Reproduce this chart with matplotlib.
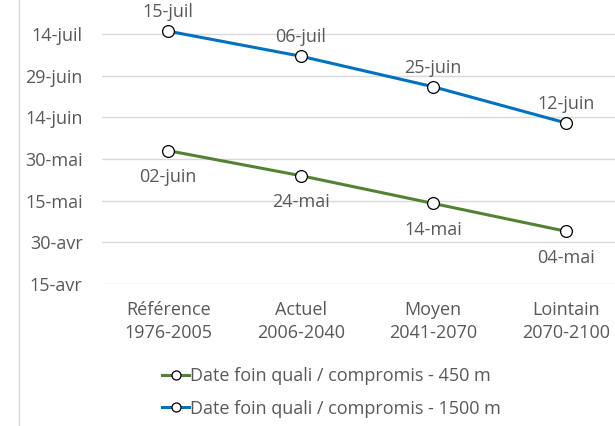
import matplotlib
matplotlib.use("Agg")
import matplotlib.pyplot as plt
from matplotlib.lines import Line2D
import numpy as np
import pandas as pd

periods = ["Référence\n1976-2005", "Actuel\n2006-2040", "Moyen\n2041-2070", "Lointain\n2070-2100"]
dates_450 = ["2001-06-02", "2001-05-24", "2001-05-14", "2001-05-04"]
labels_450 = ["02-juin", "24-mai", "14-mai", "04-mai"]
dates_1500 = ["2001-07-15", "2001-07-06", "2001-06-25", "2001-06-12"]
labels_1500 = ["15-juil", "06-juil", "25-juin", "12-juin"]
tick_dates = ["2001-04-15", "2001-04-30", "2001-05-15", "2001-05-30",
              "2001-06-14", "2001-06-29", "2001-07-14"]
tick_labels = ["15-avr", "30-avr", "15-mai", "30-mai", "14-juin", "29-juin", "14-juil"]
names = ["Date foin quali / compromis - 450 m", "Date foin quali / compromis - 1500 m"]
colors = ["#548235", "#0070C0"]

doy = lambda d: pd.to_datetime(d).dayofyear.values
y450 = doy(dates_450)
y1500 = doy(dates_1500)
yticks = doy(tick_dates)

plt.rcParams['font.family'] = ['Open Sans', 'DejaVu Sans']
txt = "#595959"
fs = 13
fig = plt.figure(figsize=(6.15, 4.26), dpi=100)
ax = fig.add_axes([102/615, 142/426, 530/615, 291.7/426])
x = np.arange(len(periods))

ax.plot(x, y450, color=colors[0], lw=2.2, marker="o", ms=8.5, mfc="white", mec="black", mew=0.9, zorder=3)
ax.plot(x, y1500, color=colors[1], lw=2.2, marker="o", ms=8.5, mfc="white", mec="black", mew=0.9, zorder=3)

for xi, yi, s in zip(x, y450, labels_450):
    ax.annotate(s, (xi, yi), xytext=(0, -19), textcoords="offset points",
                ha="center", va="center", fontsize=fs, color=txt)
for xi, yi, s in zip(x, y1500, labels_1500):
    ax.annotate(s, (xi, yi), xytext=(0, 13.5), textcoords="offset points",
                ha="center", va="center", fontsize=fs, color=txt)

ax.set_xlim(-0.5, 3.5)
ax.set_ylim(yticks[0], 210)
ax.set_yticks(yticks)
ax.set_yticklabels(tick_labels)
ax.set_xticks(x)
ax.set_xticklabels(periods, linespacing=1.35)
ax.tick_params(axis="y", length=0, pad=14, labelsize=fs, labelcolor=txt)
ax.tick_params(axis="x", length=0, pad=12, labelsize=fs, labelcolor=txt)
ax.grid(axis="y", color="#D9D9D9", lw=1)
ax.set_axisbelow(True)
for sp in ax.spines.values():
    sp.set_visible(False)

fig.add_artist(Line2D([19/615, 19/615], [0, 1], color="#D9D9D9", lw=1))

handles = [Line2D([], [], color=c, lw=2.2, marker="o", ms=6.5, mfc="white", mec="black", mew=0.9)
           for c in colors]
fig.legend(handles, names, loc="center left", bbox_to_anchor=(146/615, 0.079), frameon=False,
           handlelength=1.5, handletextpad=0.05, labelspacing=0.8, fontsize=fs,
           labelcolor=txt)

fig.savefig("out.png", dpi=100)
